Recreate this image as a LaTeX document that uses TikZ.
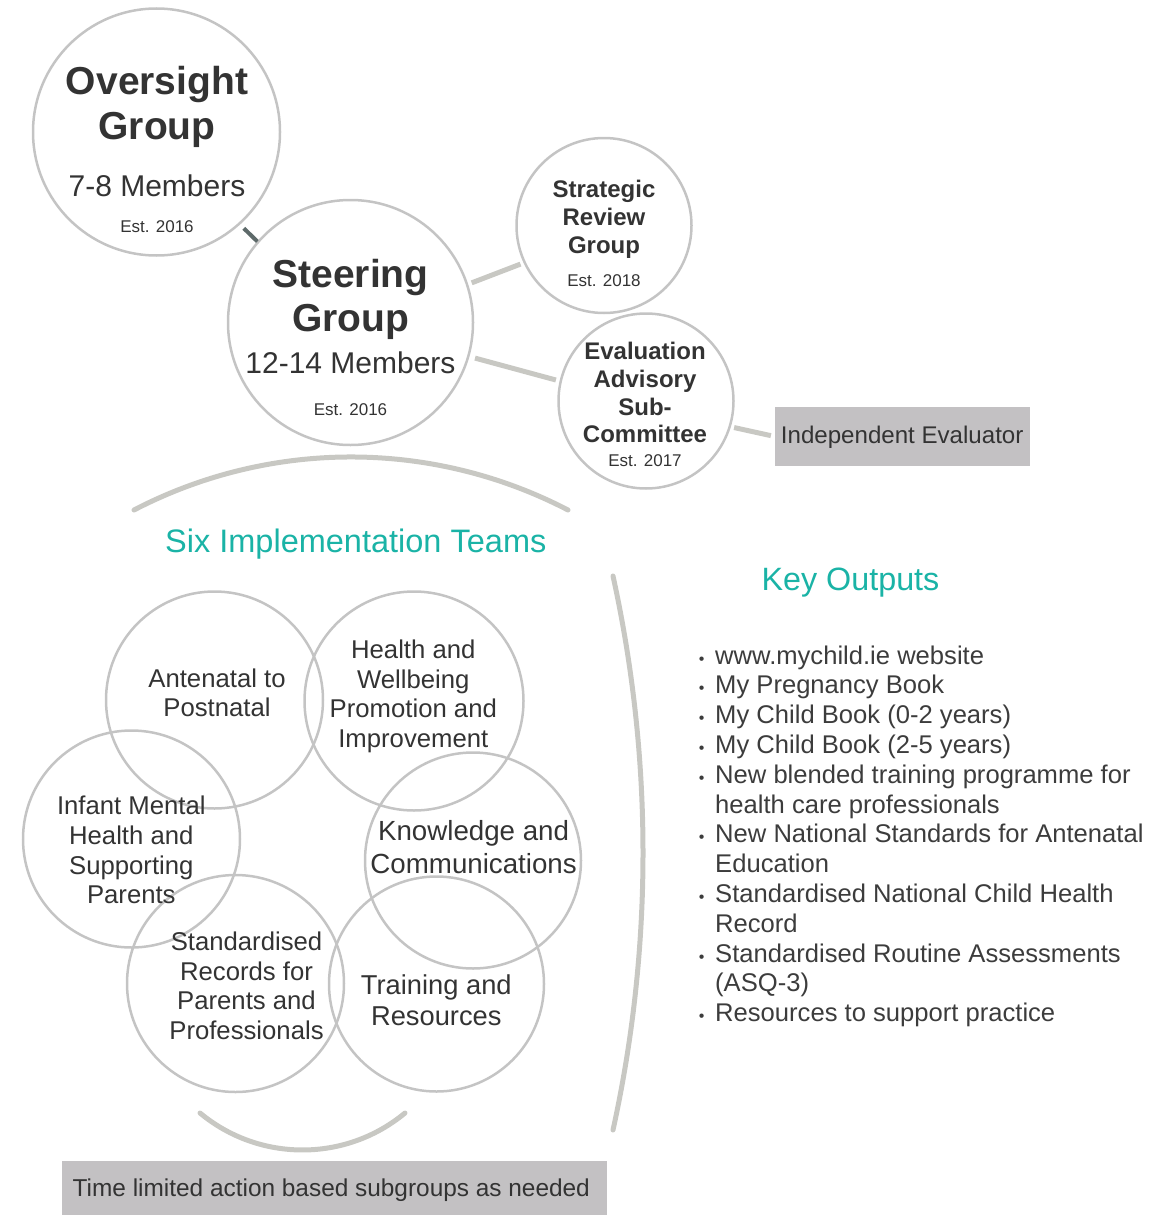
\documentclass[tikz,border=0pt]{standalone}
\usepackage{fontspec}
\setmainfont{Liberation Sans}
\newcommand\fsz[2]{\fontsize{#1}{#2}\selectfont}
\definecolor{txtc}{HTML}{333333}
\definecolor{bulc}{HTML}{3C3C3C}
\definecolor{tealc}{HTML}{1AB3A6}
\definecolor{ringc}{HTML}{C4C4C4}
\definecolor{connc}{HTML}{C8C8C3}
\definecolor{darkconnc}{HTML}{5E6A6A}
\definecolor{boxc}{HTML}{C3C1C3}
\begin{document}
\begin{tikzpicture}[x=1pt,y=-1pt,
  ring/.style={circle, draw=ringc, line width=2.5pt, inner sep=0pt, outer sep=0pt, minimum size=#1},
  conn/.style={draw=connc, line width=5pt},
  arcline/.style={draw=connc, line width=5pt, line cap=round},
  lbl/.style={text=txtc, inner sep=0pt, align=center},
  est/.style={text=txtc, inner sep=0pt, anchor=base, font=\fsz{17}{20}},
  team/.style={text=txtc, inner sep=0pt, align=center},
  item/.style={text=bulc, inner sep=0pt, anchor=base west, font=\fsz{25.6}{30}},
  bul/.style={text=bulc, inner sep=0pt, anchor=base, font=\fsz{16}{18}},
  graybox/.style={fill=boxc, draw=none, inner sep=0pt},
  heading/.style={text=tealc, inner sep=0pt, anchor=base}]
\useasboundingbox (0,0) rectangle (1171,1215);

% governance circles
\node[ring=247] (over) at (156.5,132) {};
\node[ring=245] (steer) at (350.5,322.5) {};
\node[ring=175] (strat) at (604,225.5) {};
\node[ring=175] (eval) at (646,401) {};
\node[graybox, minimum width=255pt, minimum height=59pt] (indep) at (902.5,436.5) {};

% connectors
\draw[draw=darkconnc, line width=4pt, shorten <=6.5pt, shorten >=1pt] (over.-48) -- (steer.139);
\draw[conn, shorten <=5pt, shorten >=4.5pt] (steer.18) -- (strat.205);
\draw[conn, shorten <=7pt, shorten >=5pt] (steer.-16) -- (eval.167);
\draw[conn, shorten <=4.5pt, shorten >=4pt] (eval.-17) -- (indep.west);

% governance texts
\node[lbl, font=\bfseries\fsz{39}{45}] (overT) at (157,107.3) {Oversight\\Group};
\node[lbl, anchor=base, font=\fsz{30}{34}] (overM) at (157,196) {7-8 Members};
\node[est] (overE) at (157,232) {Est. 2016};
\node[lbl, font=\bfseries\fsz{39}{44.5}] (steerT) at (350.5,299.5) {Steering\\Group};
\node[lbl, anchor=base, font=\fsz{30}{34}] (steerM) at (350.5,373) {12-14 Members};
\node[est] (steerE) at (350.5,415) {Est. 2016};
\node[lbl, font=\bfseries\fsz{24}{28}] (stratT) at (604,218.8) {Strategic\\Review\\Group};
\node[est] (stratE) at (604,286.7) {Est. 2018};
\node[lbl, font=\bfseries\fsz{24}{27.7}] (evalT) at (645,392.8) {Evaluation\\Advisory\\Sub-\\Committee};
\node[est] (evalE) at (645,466) {Est. 2017};
\node[lbl, anchor=base, font=\fsz{24.1}{28}] (indepT) at (902.2,443.3) {Independent Evaluator};

% arcs
\draw[arcline] (134,510) .. controls (270,439.3) and (432,439.3) .. (568,510);
\draw[arcline] (613,576) .. controls (653,758.5) and (653,947.5) .. (613,1130);
\draw[arcline] (200,1113) .. controls (259.4,1162.3) and (345.6,1162.3) .. (405,1113);

% headings
\node[heading, font=\fsz{32.5}{36}] (sixT) at (355.8,552) {Six Implementation Teams};
\node[heading, font=\fsz{32.3}{36}] (keyT) at (850.5,590) {Key Outputs};

% team circles
\node[ring=217] (ante) at (214.5,700) {};
\node[ring=219] (health) at (414,701) {};
\node[ring=217] (infant) at (131.5,839) {};
\node[ring=216] (know) at (473,860.5) {};
\node[ring=217] (records) at (235.5,983.5) {};
\node[ring=215] (train) at (436.5,984) {};

% team texts
\node[team, font=\fsz{25.7}{29.4}] (anteT) at (217,692.6) {Antenatal to\\Postnatal};
\node[team, font=\fsz{25.7}{29.8}] (healthT) at (413.3,696.3) {Health and\\Wellbeing\\Promotion and\\Improvement};
\node[team, font=\fsz{25.7}{29.7}] (infantT) at (131.3,850.1) {Infant Mental\\Health and\\Supporting\\Parents};
\node[team, font=\fsz{27.7}{32.3}] (knowT) at (473.6,847) {Knowledge and\\Communications};
\node[team, font=\fsz{25.7}{29.5}] (recordsT) at (246.5,985.6) {Standardised\\Records for\\Parents and\\Professionals};
\node[team, font=\fsz{27.3}{31}] (trainT) at (436.3,1000.5) {Training and\\Resources};

% bottom box
\node[graybox, minimum width=545pt, minimum height=57pt] (sub) at (334.5,1189.5) {};
\node[lbl, anchor=base, font=\fsz{24.4}{28}] (subT) at (331.3,1196.7) {Time limited action based subgroups as needed};

% key outputs list
\node[bul] (b0) at (701.7,664) {•};
\node[item] (k0) at (715,664) {www.mychild.ie website};
\node[bul] (b1) at (701.7,693.8) {•};
\node[item] (k1) at (715,693.8) {My Pregnancy Book};
\node[bul] (b2) at (701.7,723.6) {•};
\node[item] (k2) at (715,723.6) {My Child Book (0-2 years)};
\node[bul] (b3) at (701.7,753.4) {•};
\node[item] (k3) at (715,753.4) {My Child Book (2-5 years)};
\node[bul] (b4) at (701.7,783.2) {•};
\node[item] (k4) at (715,783.2) {New blended training programme for};
\node[item] (k5) at (715,813) {health care professionals};
\node[bul] (b6) at (701.7,842.8) {•};
\node[item] (k6) at (715,842.8) {New National Standards for Antenatal};
\node[item] (k7) at (715,872.6) {Education};
\node[bul] (b8) at (701.7,902.4) {•};
\node[item] (k8) at (715,902.4) {Standardised National Child Health};
\node[item] (k9) at (715,932.2) {Record};
\node[bul] (b10) at (701.7,962) {•};
\node[item] (k10) at (715,962) {Standardised Routine Assessments};
\node[item] (k11) at (715,991.8) {(ASQ-3)};
\node[bul] (b12) at (701.7,1021.6) {•};
\node[item] (k12) at (715,1021.6) {Resources to support practice};
\end{tikzpicture}
\end{document}
